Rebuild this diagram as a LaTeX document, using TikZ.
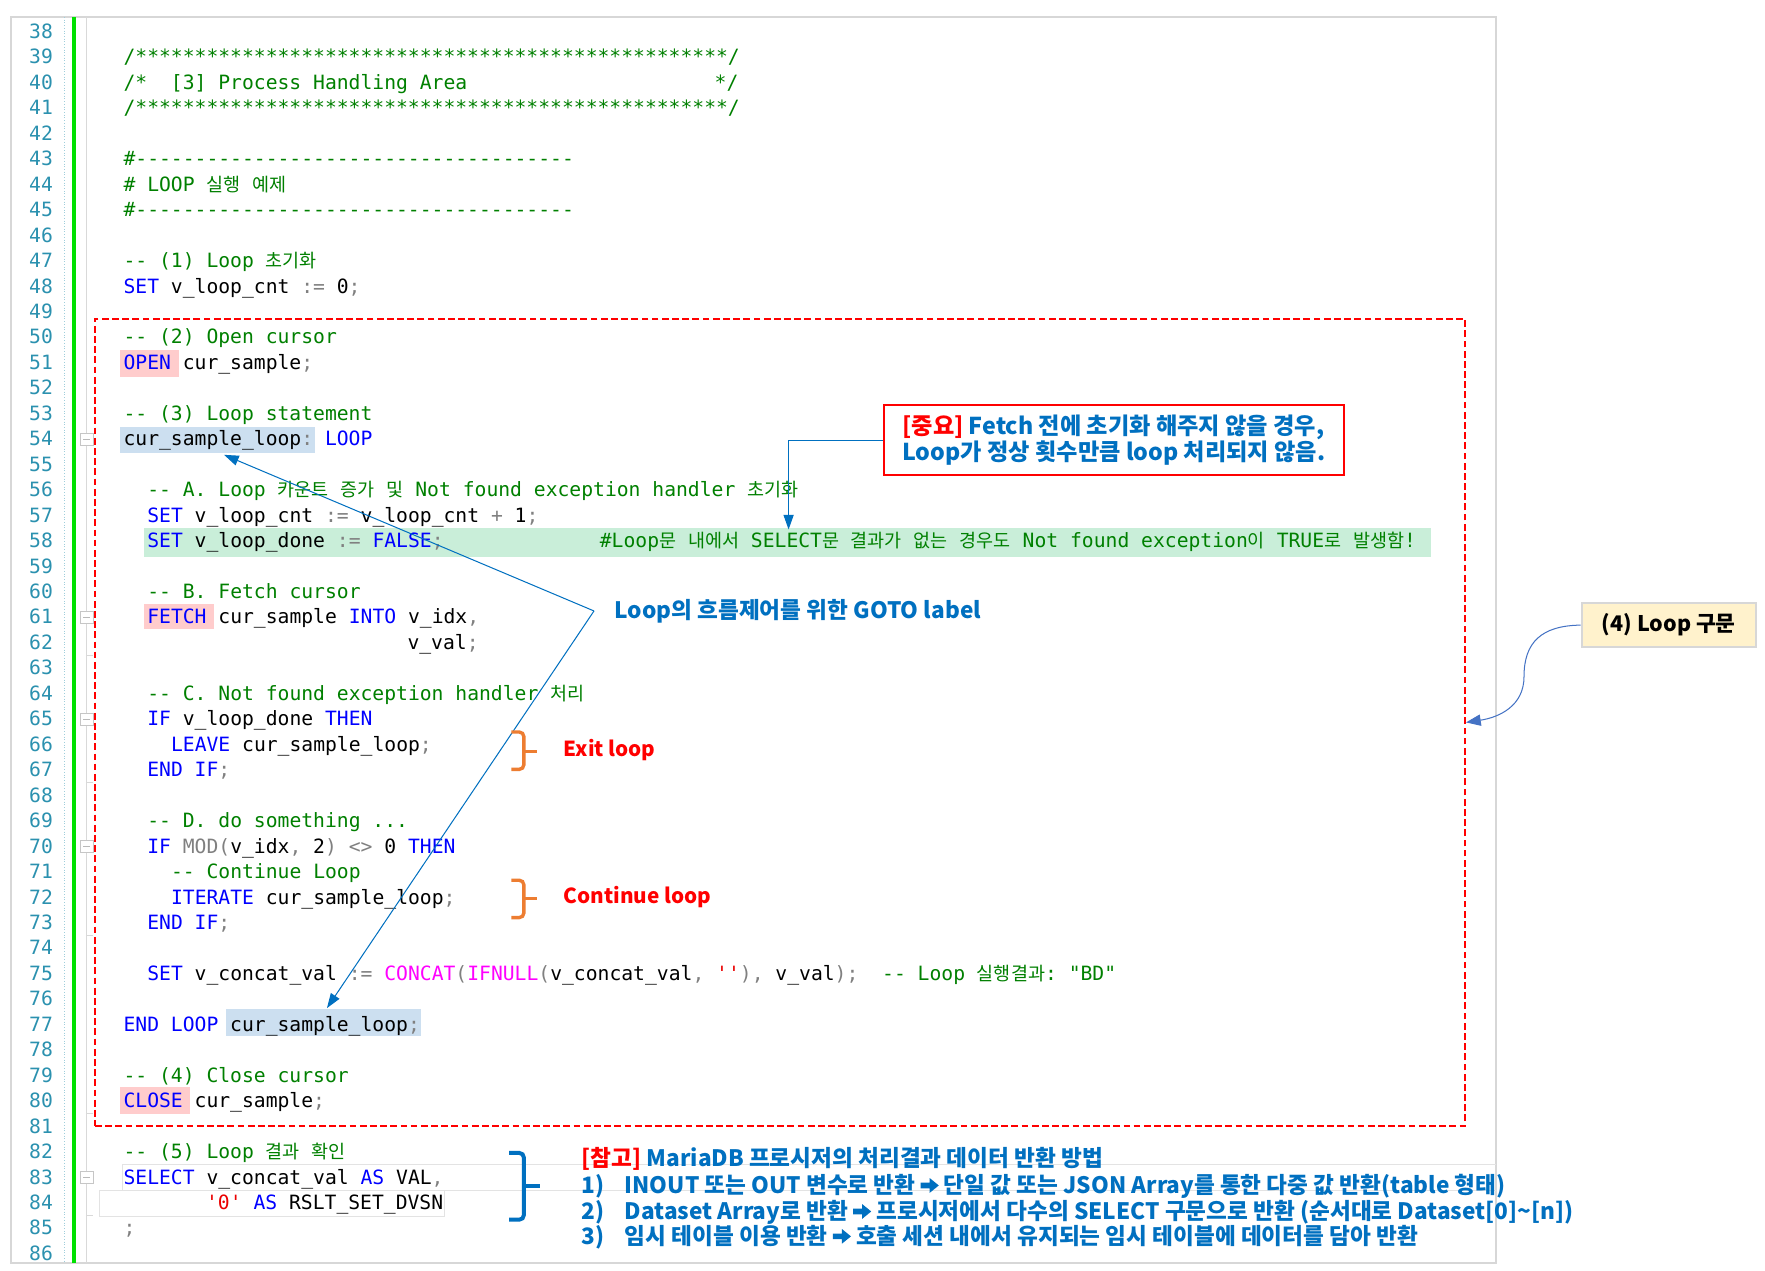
\documentclass[tikz,border=0pt]{standalone}
\usepackage{fontspec}
\setmonofont{DejaVu Sans Mono}
\newfontfamily\kr{Noto Sans CJK KR}
\newfontfamily\krcode{Noto Sans CJK KR}[Scale=0.94]
\usetikzlibrary{arrows.meta}

\definecolor{kwblue}{RGB}{0,0,255}
\definecolor{cmtgreen}{RGB}{0,128,0}
\definecolor{oprgray}{RGB}{128,128,128}
\definecolor{fncmag}{RGB}{255,0,255}
\definecolor{strred}{RGB}{235,0,0}
\definecolor{lnteal}{RGB}{43,145,175}
\definecolor{notblue}{RGB}{0,112,192}
\definecolor{pinkhl}{RGB}{255,204,204}
\definecolor{bluehl}{RGB}{204,223,240}
\definecolor{greenhl}{RGB}{201,238,217}
\definecolor{tagyellow}{RGB}{255,242,204}
\definecolor{bracorange}{RGB}{237,125,49}
\definecolor{curvblue}{RGB}{68,114,196}
\definecolor{framegray}{RGB}{215,215,215}
\definecolor{barcolor}{RGB}{0,225,0}

\newcommand\kw[1]{\textcolor{kwblue}{#1}}
\newcommand\cmt[1]{\textcolor{cmtgreen}{#1}}
\newcommand\opr[1]{\textcolor{oprgray}{#1}}
\newcommand\fnc[1]{\textcolor{fncmag}{#1}}
\newcommand\strq[1]{\textcolor{strred}{#1}}
\newcommand\hg[1]{{\krcode #1}}
\newcommand\harr{\tikz[x=1pt,y=1pt,baseline=0pt]\fill[notblue] (0,4.5) -- (8,4.5) -- (8,0.5) -- (16,7) -- (8,13.5) -- (8,9.5) -- (0,9.5) -- cycle;}

\begin{document}
\begin{tikzpicture}[x=1pt,y=-1pt,
  code/.style={anchor=base west, inner sep=0pt, font=\ttfamily\fontsize{17.4}{22.5}\selectfont},
  lnum/.style={anchor=base east, inner sep=0pt, text=lnteal, font=\ttfamily\fontsize{17.4}{22.5}\selectfont},
  note/.style={anchor=west, inner sep=0pt, text height=15.5pt, text depth=2pt, text=notblue, font=\kr\bfseries\fontsize{20}{23}\selectfont},
  redtag/.style={anchor=west, inner sep=0pt, text=red, font=\kr\bfseries\fontsize{18.3}{23}\selectfont},
  goto/.style={draw=notblue, line width=0.9pt, -{Triangle[width=9pt,length=13pt]}},
  brc/.style={line width=3pt, rounded corners=4pt}]

\fill[white] (0,0) rectangle (1560,1123);
\useasboundingbox (0,0) rectangle (1560,1123);

% editor frame and margins
\draw[framegray, line width=2pt] (10,15) rectangle (1322,1116);
\draw[lnteal!45, dotted] (57,15) -- (57,1116);
\fill[barcolor] (63.5,15) rectangle (67,1116);
\draw[gray!30] (76,15) -- (76,1116);
\foreach \fy in {62.5,67.5,73.5,80.5,84.5}
  \draw[gray!30] (76,{28+(\fy-38)*22.5}) -- (82,{28+(\fy-38)*22.5});
\foreach \fy in {54,61,65,70,83} {
  \draw[gray!45, fill=white] (71,{22.5+(\fy-38)*22.5}) rectangle (82,{33.5+(\fy-38)*22.5});
  \draw[gray!55] (73.5,{28+(\fy-38)*22.5}) -- (79.5,{28+(\fy-38)*22.5});
}

% highlights
\fill[pinkhl] (106,309) rectangle (158,333);
\fill[bluehl] (106,377) rectangle (278,400);
\fill[greenhl] (127,467) rectangle (1265,492);
\fill[pinkhl] (127,534) rectangle (189,556);
\fill[bluehl] (200,892) rectangle (372,916);
\fill[pinkhl] (106,961) rectangle (168,985);
\draw[gray!22, line width=1.2pt] (1322,1029) -- (108,1029) -- (108,1052);
\draw[gray!22, line width=1.2pt] (88,1052) -- (1322,1052);
\draw[gray!22, line width=1.2pt] (88,1052) -- (88,1075) -- (393,1075) -- (393,1052);

% line numbers
\foreach \n in {38,...,86}
  \node[lnum] (n\n) at (47,{34+(\n-38)*22.5}) {\n};

% code
\node[code] (l39) at (109,56.5) {\cmt{/**************************************************/}};
\node[code] (l40) at (109,79) {\cmt{/*\ \ [3] Process Handling Area}};
\node[code] (l40e) at (631.5,79) {\cmt{*/}};
\node[code] (l41) at (109,101.5) {\cmt{/**************************************************/}};
\node[code] (l43) at (109,146.5) {\cmt{\#-------------------------------------}};
\node[code] (l44) at (109,169) {\cmt{\# LOOP \hg{실행} \hg{예제}}};
\node[code] (l45) at (109,191.5) {\cmt{\#-------------------------------------}};
\node[code] (l47) at (109,236.5) {\cmt{-- (1) Loop \hg{초기화}}};
\node[code] (l48) at (109,259) {\kw{SET} v\_loop\_cnt \opr{:=} 0\opr{;}};
\node[code] (l50) at (109,304) {\cmt{-- (2) Open cursor}};
\node[code] (l51) at (109,326.5) {\kw{OPEN} cur\_sample\opr{;}};
\node[code] (l53) at (109,371.5) {\cmt{-- (3) Loop statement}};
\node[code] (l54) at (109,394) {cur\_sample\_loop\opr{:} \kw{LOOP}};
\node[code] (l56) at (130,439) {\cmt{-- A. Loop \hg{카운트} \hg{증가} \hg{및} Not found exception handler \hg{초기화}}};
\node[code] (l57) at (130,461.5) {\kw{SET} v\_loop\_cnt \opr{:=} v\_loop\_cnt \opr{+} 1\opr{;}};
\node[code] (l58) at (130,484) {\kw{SET} v\_loop\_done \opr{:=} \kw{FALSE}\opr{;}};
\node[code] (l58c) at (530,484) {\cmt{\#Loop\hg{문} \hg{내에서} SELECT\hg{문} \hg{결과가} \hg{없는} \hg{경우도} Not found exception\hg{이} TRUE\hg{로} \hg{발생함}!}};
\node[code] (l60) at (130,529) {\cmt{-- B. Fetch cursor}};
\node[code] (l61) at (130,551.5) {\kw{FETCH} cur\_sample \kw{INTO} v\_idx\opr{,}};
\node[code] (l62) at (360,574) {v\_val\opr{;}};
\node[code] (l64) at (130,619) {\cmt{-- C. Not found exception handler \hg{처리}}};
\node[code] (l65) at (130,641.5) {\kw{IF} v\_loop\_done \kw{THEN}};
\node[code] (l66) at (151,664) {\kw{LEAVE} cur\_sample\_loop\opr{;}};
\node[code] (l67) at (130,686.5) {\kw{END IF}\opr{;}};
\node[code] (l69) at (130,731.5) {\cmt{-- D. do something ...}};
\node[code] (l70) at (130,754) {\kw{IF} \opr{MOD(}v\_idx\opr{,} 2\opr{)} \opr{<>} 0 \kw{THEN}};
\node[code] (l71) at (151,776.5) {\cmt{-- Continue Loop}};
\node[code] (l72) at (151,799) {\kw{ITERATE} cur\_sample\_loop\opr{;}};
\node[code] (l73) at (130,821.5) {\kw{END IF}\opr{;}};
\node[code] (l75) at (130,866.5) {\kw{SET} v\_concat\_val \opr{:=} \fnc{CONCAT}\opr{(}\fnc{IFNULL}\opr{(}v\_concat\_val\opr{,} \strq{''}\opr{),} v\_val\opr{);}\ \ \cmt{-- Loop \hg{실행결과}: "BD"}};
\node[code] (l77) at (109,911.5) {\kw{END LOOP} cur\_sample\_loop\opr{;}};
\node[code] (l79) at (109,956.5) {\cmt{-- (4) Close cursor}};
\node[code] (l80) at (109,979) {\kw{CLOSE} cur\_sample\opr{;}};
\node[code] (l82) at (109,1024) {\cmt{-- (5) Loop \hg{결과} \hg{확인}}};
\node[code] (l83) at (109,1046.5) {\kw{SELECT} v\_concat\_val \kw{AS} VAL\opr{,}};
\node[code] (l84) at (182,1069) {\strq{'0'} \kw{AS} RSLT\_SET\_DVSN};
\node[code] (l85) at (109,1091.5) {\opr{;}};

% loop area
\node[draw=red, dash pattern=on 6pt off 3pt, line width=1.5pt, inner sep=0pt, minimum width=1211pt, minimum height=713pt] (loopzone) at (689.5,638.5) {};

% notes
\node[draw=red, line width=2pt, fill=white, minimum width=407pt, minimum height=62pt, align=left, inner sep=0pt, text=notblue, font=\kr\bfseries\fontsize{20.5}{23}\selectfont] (warn) at (984.5,389)
  {\textcolor{red}{[중요]} Fetch 전에 초기화 해주지 않을 경우,\\Loop가 정상 횟수만큼 loop 처리되지 않음.};
\coordinate (fetchtip) at (697,468);
\draw[goto] (warn.west) -| (fetchtip);

\node[note] (gotolbl) at (543,540) {Loop의 흐름제어를 위한 GOTO label};
\coordinate (gotofork) at (525,540);
\coordinate (looptip) at (198,402);
\coordinate (endtip) at (289,891);
\draw[goto] (gotofork) -- (looptip);
\draw[goto] (gotofork) -- (endtip);

\draw[brc, bracorange] (452,647) -- (463,647) -- (463,680) -- (452,680);
\draw[line width=3pt, bracorange] (463,664) -- (475,664);
\node[redtag] (exitlbl) at (498,663) {Exit loop};
\draw[brc, bracorange] (452,778) -- (463,778) -- (463,811) -- (452,811);
\draw[line width=3pt, bracorange] (463,794) -- (475,794);
\node[redtag] (contlbl) at (498,793) {Continue loop};

\node[draw=framegray, line width=2pt, fill=tagyellow, minimum width=154pt, minimum height=39pt, inner sep=0pt, font=\kr\bfseries\fontsize{19}{23}\selectfont] (looptag) at (1475,552.5) {(4) Loop 구문};
\draw[curvblue, line width=0.9pt, -{Triangle[width=10pt,length=13pt]}] (looptag.west) .. controls (1362,553) and (1347,568) .. (1347,598) .. controls (1347,624) and (1325,634) .. (loopzone.east);

\draw[brc, notblue, line width=3.5pt] (450,1019) -- (463,1019) -- (463,1078) -- (450,1078);
\draw[line width=3.5pt, notblue] (463,1048) -- (477,1048);
\node[note] (refhead) at (514,1024) {\textcolor{red}{[참고]} MariaDB 프로시저의 처리결과 데이터 반환 방법};
\node[note] (ref1) at (514,1048) {\makebox[38pt][l]{1)}INOUT 또는 OUT 변수로 반환 \harr{} 단일 값 또는 JSON Array를 통한 다중 값 반환(table 형태)};
\node[note] (ref2) at (514,1071) {\makebox[38pt][l]{2)}Dataset Array로 반환 \harr{} 프로시저에서 다수의 SELECT 구문으로 반환 (순서대로 Dataset[0]\textasciitilde[n])};
\node[note] (ref3) at (514,1093) {\makebox[38pt][l]{3)}임시 테이블 이용 반환 \harr{} 호출 세션 내에서 유지되는 임시 테이블에 데이터를 담아 반환};
\end{tikzpicture}
\end{document}
